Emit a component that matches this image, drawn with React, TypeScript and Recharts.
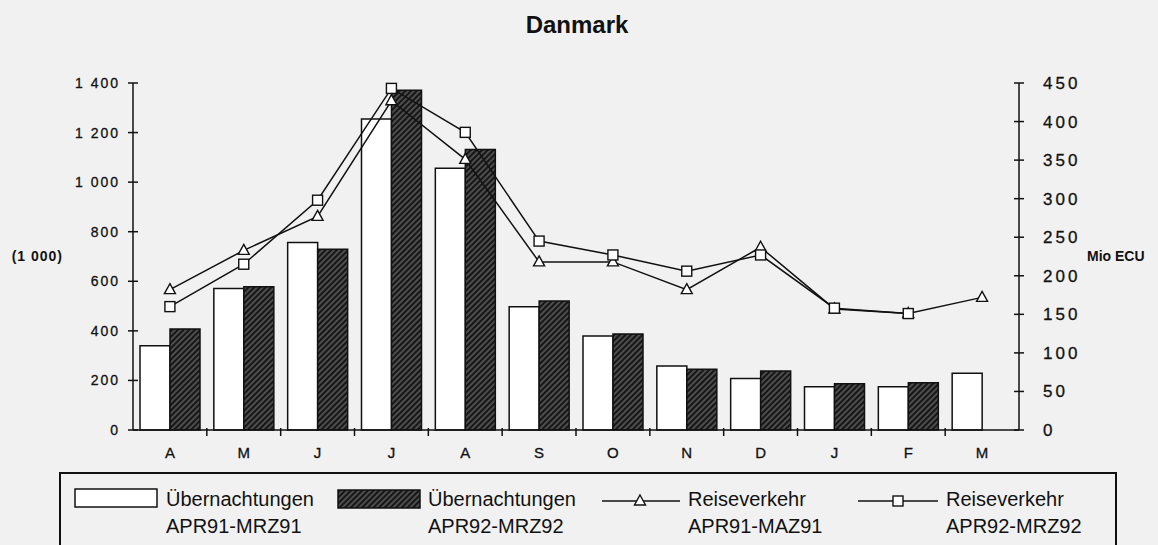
import React from 'react';
import { ComposedChart, Bar, Line, XAxis, YAxis } from 'recharts';

const FONT = '"Liberation Sans", Arial, Helvetica, sans-serif';

// month letters APR..MAR
const months = ['A', 'M', 'J', 'J', 'A', 'S', 'O', 'N', 'D', 'J', 'F', 'M'];

// Übernachtungen (1 000)
const nights9191 = [340, 571, 756, 1255, 1056, 497, 379, 258, 208, 175, 175, 229];
const nights9292 = [407, 578, 729, 1371, 1132, 520, 387, 245, 238, 187, 191, null];

// Reiseverkehr (Mio ECU)
const travel9191 = [182, 233, 277, 427, 351, 218, 218, 182, 237, 157, 151, 172];
const travel9292 = [160, 215, 298, 443, 386, 245, 227, 206, 227, 158, 151, null];

const leftTicks = [0, 200, 400, 600, 800, 1000, 1200, 1400];
const rightTicks = [0, 50, 100, 150, 200, 250, 300, 350, 400, 450];

const data = months.map((m, i) => ({
  month: m,
  n1: nights9191[i],
  n2: nights9292[i],
  t1: travel9191[i],
  t2: travel9292[i],
}));

const fmtThousands = (v: number) =>
  v >= 1000 ? `${Math.floor(v / 1000)} ${String(v % 1000).padStart(3, '0')}` : String(v);

const LeftTick = (props: any) => {
  const { x, y, payload } = props;
  return (
    <g>
      <line x1={x - 5} x2={x + 5} y1={y} y2={y} stroke="#111" strokeWidth={1.5} />
      <text x={x - 13} y={y + 5} textAnchor="end" fontSize={14} letterSpacing={2} fill="#111" stroke="#111" strokeWidth={0.3} fontFamily={FONT}>
        {fmtThousands(payload.value)}
      </text>
    </g>
  );
};

const RightTick = (props: any) => {
  const { x, y, payload } = props;
  return (
    <g>
      <line x1={x - 5} x2={x + 5} y1={y} y2={y} stroke="#111" strokeWidth={1.5} />
      <text x={x + 24} y={y + 6} textAnchor="start" fontSize={17} letterSpacing={3} fill="#111" stroke="#111" strokeWidth={0.3} fontFamily={FONT}>
        {payload.value}
      </text>
    </g>
  );
};

const MonthTick = (props: any) => {
  const { x, y, payload, index } = props;
  const half = payload.offset || 37;
  return (
    <g>
      {index > 0 && <line x1={x - half} x2={x - half} y1={y - 2} y2={y + 6} stroke="#111" strokeWidth={1.5} />}
      <text x={x} y={y + 28} textAnchor="middle" fontSize={15} fill="#111" stroke="#111" strokeWidth={0.3} fontFamily={FONT}>
        {payload.value}
      </text>
    </g>
  );
};

const TriDot = (props: any) => {
  const { cx, cy, value, index } = props;
  if (value == null || cy == null) return <g key={`t${index}`} />;
  return (
    <path
      key={`t${index}`}
      d={`M${cx},${cy - 6} L${cx + 5.5},${cy + 4} L${cx - 5.5},${cy + 4} Z`}
      fill="#fff"
      stroke="#111"
      strokeWidth={1.4}
    />
  );
};

const SqDot = (props: any) => {
  const { cx, cy, value, index } = props;
  if (value == null || cy == null) return <g key={`s${index}`} />;
  return <rect key={`s${index}`} x={cx - 5} y={cy - 5} width={10} height={10} fill="#fff" stroke="#111" strokeWidth={1.4} />;
};

const App = () => {
  return (
    <div style={{ position: 'absolute', left: 0, top: 0, width: 1158, height: 545, background: '#f1f1f1', overflow: 'hidden' }}>
      <ComposedChart
        width={1158}
        height={545}
        data={data}
        margin={{ top: 83, right: 79, left: 73, bottom: 85 }}
        barCategoryGap={7}
        barGap={0}
      >
        <defs>
          <pattern id="hatch" patternUnits="userSpaceOnUse" width={4} height={4} patternTransform="rotate(45)">
            <rect width={4} height={4} fill="#161616" />
            <line x1={1} y1={0} x2={1} y2={4} stroke="#858585" strokeWidth={1} />
          </pattern>
        </defs>
        <XAxis
          dataKey="month"
          tick={<MonthTick />}
          tickLine={false}
          tickSize={0}
          tickMargin={0}
          height={30}
          axisLine={{ stroke: '#111', strokeWidth: 1.5 }}
          interval={0}
        />
        <YAxis
          yAxisId="left"
          domain={[0, 1400]}
          ticks={leftTicks}
          interval={0}
          width={60}
          tick={<LeftTick />}
          tickLine={false}
          tickSize={0}
          tickMargin={0}
          axisLine={{ stroke: '#111', strokeWidth: 1.5 }}
          label={{ value: '(1 000)', position: 'left', offset: 10, fontSize: 14, fontWeight: 'bold', fill: '#111', fontFamily: FONT, letterSpacing: 1 }}
        />
        <YAxis
          yAxisId="right"
          orientation="right"
          domain={[0, 450]}
          ticks={rightTicks}
          interval={0}
          width={60}
          tick={<RightTick />}
          tickLine={false}
          tickSize={0}
          tickMargin={0}
          axisLine={{ stroke: '#111', strokeWidth: 1.5 }}
          label={{ value: 'Mio ECU', position: 'right', offset: 8, fontSize: 14, fontWeight: 'bold', fill: '#111', fontFamily: FONT }}
        />
        <Bar yAxisId="left" dataKey="n1" fill="#ffffff" stroke="#111" strokeWidth={1.5} isAnimationActive={false} />
        <Bar yAxisId="left" dataKey="n2" fill="url(#hatch)" stroke="#111" strokeWidth={1.5} isAnimationActive={false} />
        <Line
          yAxisId="right"
          type="linear"
          dataKey="t1"
          stroke="#111"
          strokeWidth={1.5}
          dot={TriDot}
          activeDot={false}
          isAnimationActive={false}
        />
        <Line
          yAxisId="right"
          type="linear"
          dataKey="t2"
          stroke="#111"
          strokeWidth={1.5}
          dot={SqDot}
          activeDot={false}
          isAnimationActive={false}
        />
      </ComposedChart>

      <svg width={1158} height={545} style={{ position: 'absolute', left: 0, top: 0, pointerEvents: 'none' }}>
        <defs>
          <pattern id="hatchLegend" patternUnits="userSpaceOnUse" width={4} height={4} patternTransform="rotate(45)">
            <rect width={4} height={4} fill="#161616" />
            <line x1={1} y1={0} x2={1} y2={4} stroke="#858585" strokeWidth={1} />
          </pattern>
        </defs>
        <text x={577} y={33} textAnchor="middle" fontSize={24} fontWeight="bold" fill="#111" fontFamily={FONT}>
          Danmark
        </text>

        {/* legend */}
        <rect x={60} y={473} width={1056} height={100} fill="none" stroke="#111" strokeWidth={2} />
        <g fontFamily={FONT} fontSize={20} fill="#111">
          <rect x={75} y={489} width={82} height={18} fill="#fff" stroke="#111" strokeWidth={1.5} />
          <text x={166} y={506}>Übernachtungen</text>
          <text x={166} y={533}>APR91-MRZ91</text>

          <rect x={338} y={490} width={82} height={18} fill="url(#hatchLegend)" stroke="#111" strokeWidth={1.5} />
          <text x={428} y={506}>Übernachtungen</text>
          <text x={428} y={533}>APR92-MRZ92</text>

          <line x1={602} x2={680} y1={501} y2={501} stroke="#111" strokeWidth={1.5} />
          <path d="M640,495 L645.5,505 L634.5,505 Z" fill="#fff" stroke="#111" strokeWidth={1.4} />
          <text x={688} y={506}>Reiseverkehr</text>
          <text x={688} y={533}>APR91-MAZ91</text>

          <line x1={858} x2={938} y1={501} y2={501} stroke="#111" strokeWidth={1.5} />
          <rect x={893} y={496} width={10} height={10} fill="#fff" stroke="#111" strokeWidth={1.4} />
          <text x={946} y={506}>Reiseverkehr</text>
          <text x={946} y={533}>APR92-MRZ92</text>
        </g>
      </svg>
    </div>
  );
};

export default App;
